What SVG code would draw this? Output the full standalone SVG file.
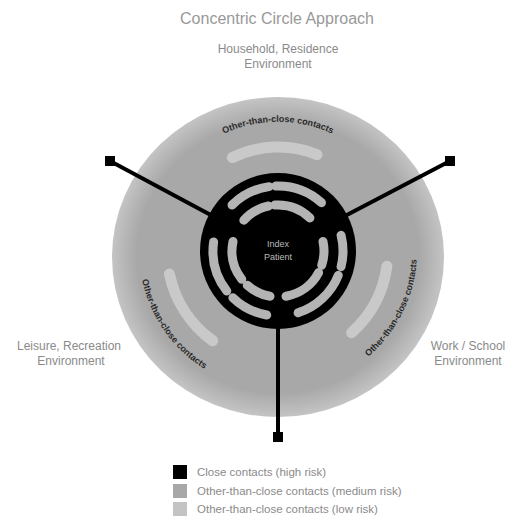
<svg xmlns="http://www.w3.org/2000/svg" width="505" height="522" viewBox="0 0 505 522">
<style>
.lbl{font-family:"Liberation Sans",Arial,sans-serif;fill:#8a8a8a;font-size:12px;text-anchor:middle}
.leg{font-family:"Liberation Sans",Arial,sans-serif;fill:#8a8a8a;font-size:11.5px}
.arcT{font-family:"Liberation Sans",Arial,sans-serif;fill:#2a2a2a;font-size:9px;font-weight:bold}
.seg{fill:none;stroke:#b4b4b4;stroke-width:9;stroke-linecap:round}
.band{fill:none;stroke:#cfcfcf;stroke-width:11;stroke-linecap:round;stroke-opacity:0.85}
.conn{stroke:#000;stroke-width:4;fill:none}
</style>
<defs>
<radialGradient id="rg" cx="0.5" cy="0.5" r="0.5">
<stop offset="0.85" stop-color="#a8a8a8"/>
<stop offset="1" stop-color="#c4c4c4"/>
</radialGradient>
<path id="pTop" d="M 218.6 136.3 A 129 129 0 0 1 337.4 136.3"/>
<path id="pLeft" d="M 141.56 277.52 A 139 139 0 0 0 206.41 370.15"/>
<path id="pRight" d="M 369.2 355.9 A 139 139 0 0 0 416.67 260.7"/>
</defs>
<rect width="505" height="522" fill="#fff"/>
<g id="title"><text class="lbl" x="277" y="24" style="font-size:16px;fill:#999">Concentric Circle Approach</text></g>
<g id="household"><text class="lbl" x="278" y="53">Household, Residence</text><text class="lbl" x="278" y="68">Environment</text></g>
<g id="leisure"><text class="lbl" x="69" y="350">Leisure, Recreation</text><text class="lbl" x="71" y="365">Environment</text></g>
<g id="work"><text class="lbl" x="468" y="350">Work / School</text><text class="lbl" x="468" y="365">Environment</text></g>
<g id="outer-circle">
<ellipse cx="278" cy="257" rx="166" ry="160" fill="url(#rg)"/>
<path class="band" d="M 232.41 157.53 A 104 104 0 0 1 316.96 154.57"/>
<path class="band" d="M 169.43 274.08 A 111 111 0 0 0 212.75 340.8"/>
<path class="band" d="M 386.93 266.31 A 110 110 0 0 1 351.6 332.74"/>
<text class="arcT"><textPath href="#pTop" startOffset="50%" text-anchor="middle">Other-than-close contacts</textPath></text>
<text class="arcT"><textPath href="#pLeft" startOffset="50%" text-anchor="middle">Other-than-close contacts</textPath></text>
<text class="arcT"><textPath href="#pRight" startOffset="50%" text-anchor="middle">Other-than-close contacts</textPath></text>
</g>
<g id="connectors">
<line class="conn" x1="278" y1="251" x2="110" y2="161"/>
<line class="conn" x1="278" y1="251" x2="450" y2="161"/>
<line class="conn" x1="278" y1="251" x2="278" y2="437"/>
<rect x="105" y="156" width="10" height="10" fill="#000"/>
<rect x="445" y="156" width="10" height="10" fill="#000"/>
<rect x="273" y="432" width="10" height="10" fill="#000"/>
</g>
<g id="index-circle">
<circle cx="278" cy="251" r="78" fill="#000"/>
<path class="seg" d="M 232.04 205.04 A 65 65 0 0 1 268.95 186.63"/>
<path class="seg" d="M 275.73 186.04 A 65 65 0 0 1 321.49 202.7"/>
<path class="seg" d="M 341.07 235.28 A 65 65 0 0 1 341.07 266.72"/>
<path class="seg" d="M 338.27 275.35 A 65 65 0 0 1 298.09 312.82"/>
<path class="seg" d="M 266.71 315.01 A 65 65 0 0 1 232.85 297.76"/>
<path class="seg" d="M 226.78 291.02 A 65 65 0 0 1 213.63 241.95"/>
<path class="seg" d="M 243.82 220.22 A 46 46 0 0 1 268.44 206.01"/>
<path class="seg" d="M 274.79 205.11 A 46 46 0 0 1 309.96 217.91"/>
<path class="seg" d="M 322.99 241.44 A 46 46 0 0 1 321.75 265.21"/>
<path class="seg" d="M 318.61 272.6 A 46 46 0 0 1 285.99 296.3"/>
<path class="seg" d="M 270.01 296.3 A 46 46 0 0 1 247.22 285.18"/>
<path class="seg" d="M 241.75 279.32 A 46 46 0 0 1 233.01 241.44"/>
<line class="conn" x1="278" y1="285" x2="278" y2="330"/>
<text class="lbl" x="278" y="247" style="font-size:9px;fill:#bbb">Index</text>
<text class="lbl" x="278" y="260" style="font-size:9px;fill:#bbb">Patient</text>
</g>
<g id="legend">
<rect x="173" y="465" width="14" height="14" fill="#000"/>
<rect x="173" y="484" width="14" height="14" fill="#a8a8a8"/>
<rect x="173" y="502" width="14" height="14" fill="#c4c4c4"/>
<text class="leg" x="197" y="476">Close contacts (high risk)</text>
<text class="leg" x="197" y="495">Other-than-close contacts (medium risk)</text>
<text class="leg" x="197" y="513">Other-than-close contacts (low risk)</text>
</g>
</svg>
